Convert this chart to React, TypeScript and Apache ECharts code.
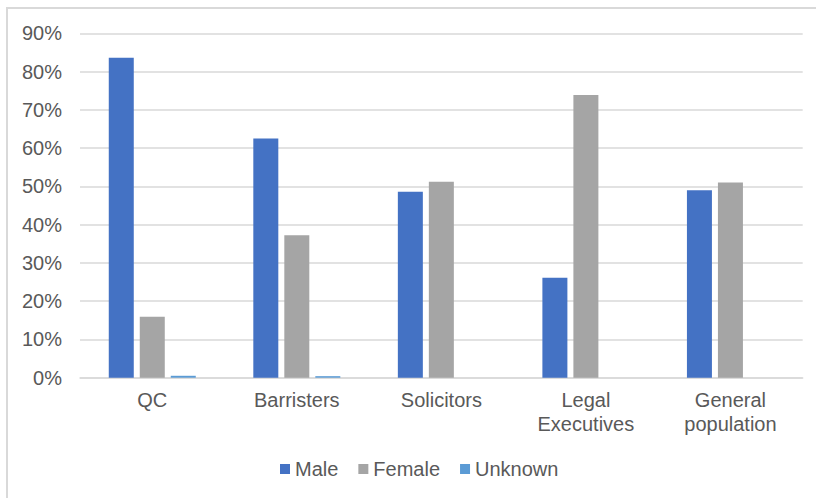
import React, { useEffect, useRef } from "react";
import * as echarts from "echarts";

const categories = ["QC", "Barristers", "Solicitors", "Legal\nExecutives", "General\npopulation"];
const maleValues = [83.6, 62.5, 48.6, 26.1, 49.0];
const femaleValues = [15.9, 37.2, 51.2, 73.9, 51.0];
const unknownValues = [0.5, 0.4, 0, 0, 0];
const seriesNames = ["Male", "Female", "Unknown"];
const yTicks = { min: 0, max: 90, interval: 10 };

const FONT = "'Liberation Sans', Arial, sans-serif";
const TEXT = "#595959";

export default function App() {
  const ref = useRef<HTMLDivElement>(null);
  useEffect(() => {
    document.body.style.margin = "0";
    const chart = echarts.init(ref.current!, null, { renderer: "svg" });
    chart.setOption({
      animation: false,
      backgroundColor: "#ffffff",
      textStyle: { fontFamily: FONT },
      graphic: [
        {
          type: "rect",
          shape: { x: 7, y: 8, width: 900, height: 600 },
          style: { fill: "none", stroke: "#d9d9d9", lineWidth: 2 },
          silent: true,
        },
      ],
      grid: { left: 80, right: 13.3, top: 33.3, bottom: 120.3, containLabel: false },
      xAxis: {
        type: "category",
        data: categories,
        axisLine: { lineStyle: { color: "#d9d9d9", width: 1.5 } },
        axisTick: { show: false },
        axisLabel: {
          color: TEXT,
          fontSize: 20,
          fontFamily: FONT,
          lineHeight: 24,
          margin: 10,
          interval: 0,
        },
      },
      yAxis: {
        type: "value",
        min: yTicks.min,
        max: yTicks.max,
        interval: yTicks.interval,
        axisLine: { show: false },
        axisTick: { show: false },
        splitLine: { lineStyle: { color: "#d9d9d9", width: 1.5 } },
        axisLabel: {
          color: TEXT,
          fontSize: 20,
          fontFamily: FONT,
          margin: 18,
          formatter: "{value}%",
        },
      },
      legend: {
        data: seriesNames,
        left: 275,
        top: 454,
        icon: "rect",
        itemWidth: 10,
        itemHeight: 10,
        itemGap: 20,
        textStyle: { color: TEXT, fontSize: 20, fontFamily: FONT, lineHeight: 20 },
      },
      series: [
        {
          name: seriesNames[0],
          type: "bar",
          data: maleValues,
          barWidth: 25,
          barGap: "24%",
          itemStyle: { color: "#4472C4" },
        },
        {
          name: seriesNames[1],
          type: "bar",
          data: femaleValues,
          barWidth: 25,
          barGap: "24%",
          itemStyle: { color: "#A5A5A5" },
        },
        {
          name: seriesNames[2],
          type: "bar",
          data: unknownValues,
          barWidth: 25,
          barGap: "24%",
          itemStyle: { color: "#5B9BD5" },
        },
      ],
    });
    return () => chart.dispose();
  }, []);
  return <div ref={ref} style={{ width: 816, height: 498 }} />;
}
